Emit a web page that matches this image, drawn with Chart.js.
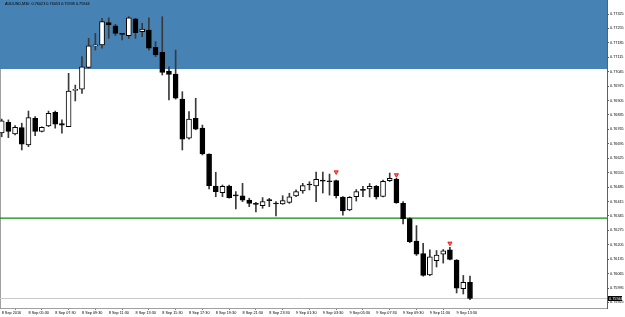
<!DOCTYPE html>
<html lang="en">
<head>
  <meta charset="UTF-8">
  <title>AUDUSD,M30</title>
  <script src="https://cdn.jsdelivr.net/npm/chart.js"></script>
  <style>
    html, body {
      margin: 0;
      padding: 0;
      background: #fff;
    }
    #wrap {
      width: 625px;
      height: 317px;
    }
  </style>
</head>
<body>

  <div id="wrap"><canvas id="chart"></canvas></div>

  <script>
    // AUDUSD M30, 8 Sep 03:30 -> 9 Sep 14:30
    const symbolName = 'AUDUSD,M30';

    const opens = [
      0.76748, 0.76799, 0.76743, 0.76774, 0.76689, 0.76819, 0.76755, 0.76782, 0.76848, 0.76793,
      0.76778, 0.76954, 0.76960, 0.77066, 0.77170, 0.77175, 0.77283, 0.77268, 0.77228, 0.77220,
      0.77301, 0.77239, 0.77247, 0.77163, 0.77139, 0.77048, 0.77034, 0.76912, 0.76722, 0.76819,
      0.76771, 0.76645, 0.76490, 0.76458, 0.76490, 0.76444, 0.76443, 0.76422, 0.76404, 0.76395,
      0.76420, 0.76404, 0.76403, 0.76411, 0.76442, 0.76466, 0.76496, 0.76490, 0.76515, 0.76512,
      0.76516, 0.76437, 0.76374, 0.76438, 0.76471, 0.76476, 0.76488, 0.76439, 0.76516, 0.76524,
      0.76406, 0.76332, 0.76223, 0.76162, 0.76058, 0.76128, 0.76159, 0.76180, 0.76130, 0.75992,
      0.76023
    ];
    const highs = [
      0.76815, 0.76811, 0.76783, 0.76795, 0.76854, 0.76827, 0.76777, 0.76854, 0.76854, 0.76811,
      0.77037, 0.76980, 0.77118, 0.77207, 0.77231, 0.77304, 0.77307, 0.77275, 0.77231, 0.77312,
      0.77304, 0.77280, 0.77307, 0.77191, 0.77312, 0.77069, 0.77150, 0.76948, 0.76851, 0.76916,
      0.76786, 0.76646, 0.76557, 0.76495, 0.76495, 0.76463, 0.76503, 0.76431, 0.76411, 0.76434,
      0.76430, 0.76414, 0.76443, 0.76455, 0.76471, 0.76503, 0.76511, 0.76558, 0.76558, 0.76548,
      0.76519, 0.76439, 0.76439, 0.76473, 0.76488, 0.76502, 0.76493, 0.76519, 0.76553, 0.76528,
      0.76414, 0.76336, 0.76298, 0.76212, 0.76180, 0.76177, 0.76182, 0.76193, 0.76133, 0.76056,
      0.76053
    ];
    const lows = [
      0.76729, 0.76725, 0.76738, 0.76665, 0.76681, 0.76735, 0.76753, 0.76778, 0.76771, 0.76747,
      0.76778, 0.76903, 0.76940, 0.77062, 0.77150, 0.77159, 0.77207, 0.77220, 0.77199, 0.77207,
      0.77207, 0.77215, 0.77150, 0.77118, 0.77029, 0.76908, 0.76912, 0.76665, 0.76718, 0.76763,
      0.76641, 0.76476, 0.76438, 0.76438, 0.76431, 0.76379, 0.76414, 0.76390, 0.76364, 0.76382,
      0.76390, 0.76345, 0.76401, 0.76406, 0.76438, 0.76455, 0.76471, 0.76414, 0.76456, 0.76446,
      0.76432, 0.76349, 0.76370, 0.76417, 0.76438, 0.76437, 0.76427, 0.76437, 0.76512, 0.76406,
      0.76306, 0.76215, 0.76153, 0.76052, 0.76055, 0.76097, 0.76116, 0.76131, 0.75971, 0.75966,
      0.75939
    ];
    const closes = [
      0.76806, 0.76755, 0.76775, 0.76693, 0.76822, 0.76755, 0.76775, 0.76843, 0.76790, 0.76786,
      0.76951, 0.76959, 0.77069, 0.77171, 0.77172, 0.77288, 0.77272, 0.77231, 0.77226, 0.77307,
      0.77234, 0.77252, 0.77159, 0.77126, 0.77042, 0.77032, 0.76916, 0.76718, 0.76815, 0.76766,
      0.76646, 0.76492, 0.76463, 0.76488, 0.76434, 0.76442, 0.76422, 0.76406, 0.76401, 0.76414,
      0.76419, 0.76403, 0.76419, 0.76438, 0.76463, 0.76492, 0.76495, 0.76523, 0.76514, 0.76511,
      0.76443, 0.76369, 0.76435, 0.76463, 0.76469, 0.76489, 0.76437, 0.76513, 0.76528, 0.76409,
      0.76332, 0.76220, 0.76159, 0.76056, 0.76146, 0.76155, 0.76175, 0.76134, 0.75994, 0.76023,
      0.75944
    ];

    // one label every 4 bars, first bar = 8 Sep 03:30
    const timeLabels = [
      '8 Sep 2016', '8 Sep 05:30', '8 Sep 07:30', '8 Sep 09:30', '8 Sep 11:30', '8 Sep 13:30',
      '8 Sep 15:30', '8 Sep 17:30', '8 Sep 19:30', '8 Sep 21:30', '8 Sep 23:30', '9 Sep 01:30',
      '9 Sep 03:30', '9 Sep 05:30', '9 Sep 07:30', '9 Sep 09:30', '9 Sep 11:30', '9 Sep 13:30'
    ];

    const priceTicks = [
      0.77325, 0.77255, 0.77185, 0.77115, 0.77045, 0.76975, 0.76905, 0.76835, 0.76765, 0.76695,
      0.76625, 0.76555, 0.76485, 0.76415, 0.76345, 0.76275, 0.76205, 0.76135, 0.76065, 0.75995,
      0.75925
    ];

    // sell arrows above bars
    const signalBars = [50, 59, 67];
    const signalPrices = [0.76558, 0.76544, 0.76212];

    // objects on the chart
    const zoneTop = 0.77393;
    const zoneBottom = 0.77058;
    const supportLevel = 0.76334;

    const priceMin = 0.75898;
    const priceMax = 0.77393;
    const barMin = -0.254;
    const barMax = 90.48;

    const tinyFont = { family: 'Liberation Sans, Arial, sans-serif', size: 3.8 };

    const idx = opens.map((_, i) => i);
    const bodyData = idx.map(i => ({ x: i, y: [Math.min(opens[i], closes[i]), Math.max(opens[i], closes[i])] }));
    const wickData = idx.map(i => ({ x: i, y: [lows[i], highs[i]] }));
    const bodyFill = idx.map(i => closes[i] > opens[i] ? '#ffffff' : '#000000');
    const lastClose = closes[closes.length - 1];

    // axes take a fixed room and no extra label padding, like the terminal
    function noPad(s) {
      s.paddingTop = 0;
      s.paddingBottom = 0;
      s.paddingLeft = 0;
      s.paddingRight = 0;
    }

    // blue rectangle, left border, title and price box
    const mtDecor = {
      id: 'mtDecor',
      beforeDatasetsDraw(chart) {
        const { ctx, chartArea, scales } = chart;
        ctx.save();
        ctx.strokeStyle = '#a0a0a0';
        ctx.lineWidth = 1;
        ctx.beginPath();
        ctx.moveTo(chartArea.left + 0.5, chartArea.top);
        ctx.lineTo(chartArea.left + 0.5, chartArea.bottom);
        ctx.stroke();
        const y1 = scales.y.getPixelForValue(zoneTop);
        const y2 = scales.y.getPixelForValue(zoneBottom);
        ctx.fillStyle = '#4682b4';
        ctx.fillRect(chartArea.left, y1, chartArea.right - chartArea.left, y2 - y1);
        ctx.restore();
      },
      afterDraw(chart) {
        const { ctx, chartArea, scales } = chart;
        ctx.save();
        ctx.font = '3.8px Liberation Sans, Arial, sans-serif';
        ctx.fillStyle = '#000';
        ctx.textBaseline = 'middle';
        const n = closes.length - 1;
        const head = symbolName + '  ' + [opens[n], highs[n], lows[n], closes[n]].map(v => v.toFixed(5)).join(' ');
        ctx.fillText(head, chartArea.left + 5, chartArea.top + 4);
        const yp = scales.y.getPixelForValue(lastClose);
        ctx.fillStyle = '#000';
        ctx.fillRect(chartArea.right + 1, yp - 2.5, 14, 5);
        ctx.fillStyle = '#fff';
        ctx.fillText(lastClose.toFixed(5), chartArea.right + 2, yp);
        ctx.restore();
      }
    };

    const ctx = document.getElementById('chart').getContext('2d');
    const chart = new Chart(ctx, {
      type: 'bar',
      data: {
        datasets: [
          {
            type: 'line',
            label: 'Sell',
            data: signalBars.map((b, k) => ({ x: b, y: signalPrices[k] })),
            showLine: false,
            pointStyle: 'triangle',
            pointRotation: 180,
            pointRadius: 2.4,
            pointBackgroundColor: '#ff7070',
            pointBorderColor: '#e00000',
            pointBorderWidth: 0.8
          },
          {
            label: 'Body',
            data: bodyData,
            backgroundColor: bodyFill,
            borderColor: '#000000',
            borderWidth: 1,
            borderSkipped: false,
            barThickness: 5,
            minBarLength: 1,
            grouped: false
          },
          {
            label: 'Wick',
            data: wickData,
            backgroundColor: '#3a3a3a',
            barThickness: 1,
            grouped: false
          },
          {
            type: 'line',
            label: 'Support',
            data: [{ x: barMin, y: supportLevel }, { x: barMax, y: supportLevel }],
            borderColor: '#108a10',
            borderWidth: 1.3,
            pointRadius: 0
          },
          {
            type: 'line',
            label: 'Bid',
            data: [{ x: barMin, y: lastClose }, { x: barMax, y: lastClose }],
            borderColor: '#c8c8c8',
            borderWidth: 1,
            pointRadius: 0
          }
        ]
      },
      options: {
        responsive: true,
        maintainAspectRatio: false,
        animation: false,
        events: [],
        layout: { padding: 0, autoPadding: false },
        plugins: {
          legend: { display: false },
          tooltip: { enabled: false }
        },
        scales: {
          x: {
            type: 'linear',
            position: 'bottom',
            min: barMin,
            max: barMax,
            offset: false,
            afterBuildTicks: s => { s.ticks = timeLabels.map((_, k) => ({ value: k * 4 })); },
            afterFit: s => { s.height = 9; noPad(s); },
            ticks: {
              autoSkip: false,
              maxRotation: 0,
              align: 'start',
              padding: 1,
              color: '#000',
              font: tinyFont,
              callback: (v, i) => timeLabels[i]
            },
            grid: { drawOnChartArea: false, drawTicks: true, tickLength: 2, color: '#808080' },
            border: { display: true, color: '#a0a0a0' }
          },
          y: {
            type: 'linear',
            position: 'right',
            min: priceMin,
            max: priceMax,
            afterBuildTicks: s => { s.ticks = priceTicks.map(v => ({ value: v })); },
            afterFit: s => { s.width = 18; noPad(s); },
            ticks: {
              autoSkip: false,
              padding: 1,
              crossAlign: 'near',
              color: '#000',
              font: tinyFont,
              callback: v => v.toFixed(5)
            },
            grid: { drawOnChartArea: false, drawTicks: true, tickLength: 2, color: '#606060' },
            border: { display: true, color: '#606060' }
          }
        }
      },
      plugins: [mtDecor]
    });
  </script>

</body>
</html>
